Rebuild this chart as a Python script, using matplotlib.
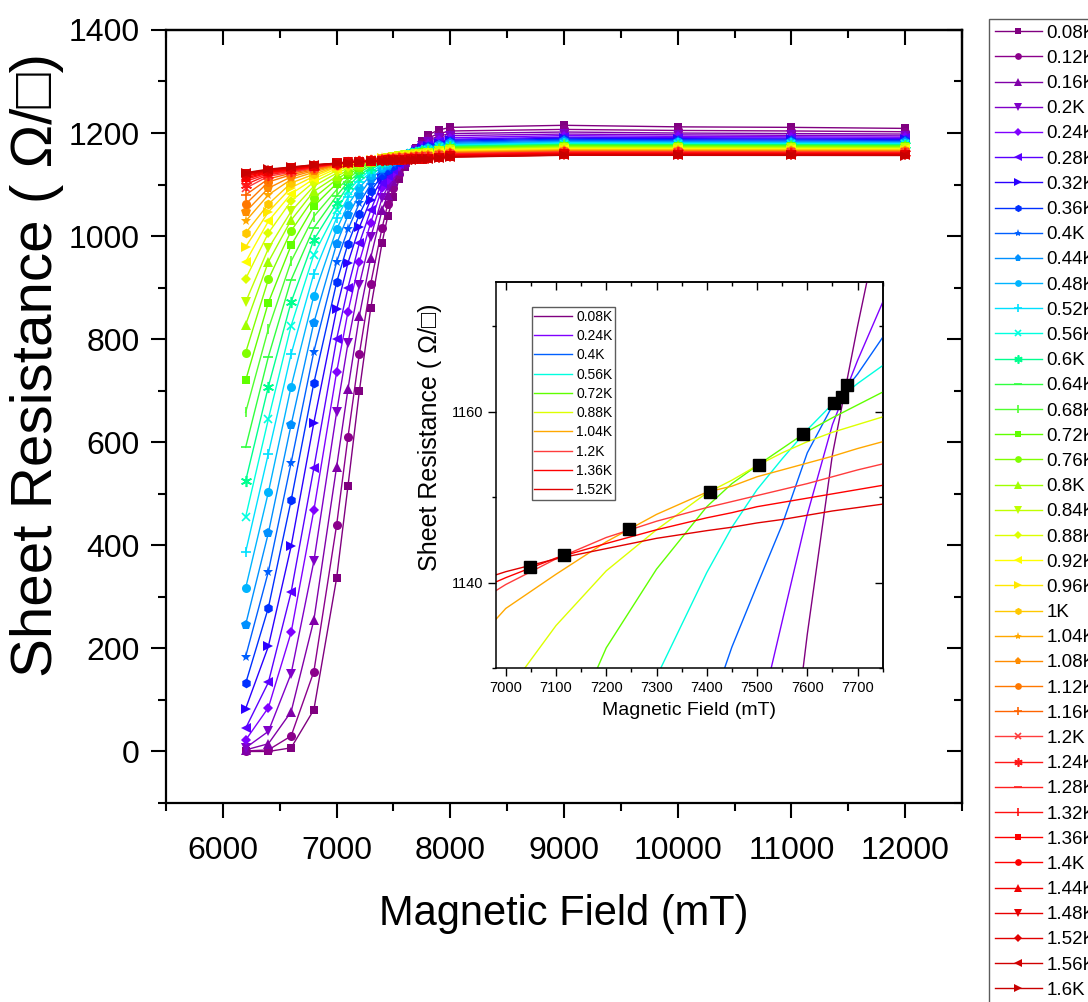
import numpy as np
import matplotlib
matplotlib.use("Agg")
import matplotlib.pyplot as plt
from matplotlib.ticker import MultipleLocator, AutoMinorLocator

plt.rcParams['font.family'] = ['Liberation Sans', 'DejaVu Sans']

# ---------------- data ----------------
temperature_labels = ["0.08K", "0.12K", "0.16K", "0.2K", "0.24K", "0.28K", "0.32K", "0.36K",
                      "0.4K", "0.44K", "0.48K", "0.52K", "0.56K", "0.6K", "0.64K", "0.68K",
                      "0.72K", "0.76K", "0.8K", "0.84K", "0.88K", "0.92K", "0.96K", "1K",
                      "1.04K", "1.08K", "1.12K", "1.16K", "1.2K", "1.24K", "1.28K", "1.32K",
                      "1.36K", "1.4K", "1.44K", "1.48K", "1.52K", "1.56K", "1.6K"]

field_mT = [6200, 6400, 6600, 6800, 7000, 7100, 7200, 7300, 7400, 7450, 7500, 7550,
            7600, 7650, 7700, 7750, 7800, 7900, 8000, 9000, 10000, 11000, 12000]

# sheet resistance (ohm/sq) of every temperature at each field value
R_6200 = [0, 1, 3, 7, 22, 45, 83, 132, 184, 246, 317, 387, 455, 525, 590, 658, 720, 774, 828, 872,
          917, 950, 979, 1006, 1029, 1047, 1062, 1080, 1093, 1100, 1106, 1110, 1113, 1116, 1118,
          1120, 1121, 1122, 1123]
R_6400 = [0, 3, 15, 39, 85, 134, 204, 279, 349, 424, 503, 578, 645, 708, 766, 820, 871, 916, 950,
          976, 1006, 1029, 1047, 1062, 1080, 1093, 1105, 1111, 1116, 1119, 1121, 1123, 1124, 1125,
          1126, 1127, 1128, 1129, 1130]
R_6600 = [7, 30, 77, 151, 231, 309, 398, 487, 560, 634, 708, 771, 826, 872, 915, 951, 982, 1010,
          1031, 1048, 1068, 1082, 1094, 1103, 1110, 1115, 1119, 1122, 1124, 1126, 1127, 1128, 1129,
          1130, 1131, 1132, 1133, 1133.5, 1134]
R_6800 = [81, 155, 255, 369, 468, 550, 638, 715, 776, 832, 884, 927, 964, 993, 1016, 1038, 1058,
          1074, 1087, 1097, 1105, 1111, 1116, 1120, 1124, 1127, 1129, 1131, 1132.5, 1133.5, 1134.5,
          1135, 1135.5, 1136, 1136.5, 1137, 1137.5, 1138, 1138.5]
R_7000 = [336, 439, 552, 658, 736, 800, 858, 910, 950, 985, 1013, 1035, 1050, 1064, 1078, 1090,
          1102, 1110, 1116, 1122, 1127, 1131, 1134, 1135.5, 1137, 1138, 1138.8, 1139.3, 1139.8,
          1140, 1140.2, 1140.4, 1140.6, 1140.8, 1141, 1141.2, 1141.3, 1141.4, 1141.5]
R_7100 = [515, 610, 703, 792, 853, 900, 948, 985, 1013, 1040, 1060, 1075, 1087, 1097, 1105, 1112,
          1119, 1124, 1128, 1132, 1135, 1137.5, 1139.5, 1140.5, 1141, 1141.5, 1142, 1142.4, 1142.8,
          1142.9, 1142.9, 1142.9, 1142.9, 1142.9, 1142.9, 1142.9, 1142.8, 1142.8, 1142.8]
R_7200 = [699, 771, 845, 906, 950, 986, 1017, 1042, 1064, 1080, 1094, 1105, 1111, 1118, 1123, 1128,
          1132.4, 1135, 1137.5, 1139.5, 1141.4, 1142.7, 1143.7, 1144.3, 1144.8, 1145.0, 1145.2,
          1145.3, 1145.3, 1145.2, 1145.1, 1144.9, 1144.6, 1144.5, 1144.3, 1144.2, 1144.0, 1143.9,
          1143.8]
R_7300 = [860, 908, 958, 998, 1026, 1050, 1071, 1087, 1100, 1110, 1118, 1124, 1129, 1133, 1136.5,
          1139.2, 1141.6, 1143.2, 1144.5, 1145.4, 1146.2, 1146.8, 1147.3, 1147.7, 1148.0, 1147.9,
          1147.8, 1147.6, 1147.2, 1147.0, 1146.8, 1146.5, 1146.2, 1146.0, 1145.8, 1145.5, 1145.2,
          1145.1, 1145.0]
R_7400 = [987, 1016, 1051, 1074, 1093, 1104, 1112, 1118, 1124, 1130, 1134, 1138, 1141.2, 1143.5,
          1145.3, 1147.2, 1148.9, 1149.6, 1150.1, 1150.3, 1150.5, 1150.6, 1150.6, 1150.6, 1150.6,
          1150.3, 1150.0, 1149.5, 1148.8, 1148.5, 1148.2, 1147.9, 1147.6, 1147.3, 1147.0, 1146.6,
          1146.1, 1146.0, 1145.9]
R_7450 = [1039, 1062, 1080, 1095, 1108, 1116, 1122, 1127.5, 1132.5, 1137, 1140.5, 1143.5, 1146.5,
          1148.3, 1149.5, 1150.6, 1151.6, 1151.9, 1152.0, 1152.0, 1152.0, 1151.9, 1151.8, 1151.7,
          1151.3, 1151.0, 1150.7, 1150.2, 1149.5, 1149.2, 1148.9, 1148.6, 1148.2, 1147.8, 1147.4,
          1147.0, 1146.5, 1146.4, 1146.3]
R_7500 = [1076, 1093, 1106, 1115, 1123, 1128, 1132, 1136, 1139.7, 1143.5, 1146.8, 1149.5, 1150.9,
          1152.2, 1153.0, 1153.5, 1153.7, 1153.8, 1153.8, 1153.8, 1153.7, 1153.5, 1153.2, 1152.8,
          1152.4, 1152.0, 1151.6, 1151.0, 1150.2, 1150.0, 1149.7, 1149.3, 1148.9, 1148.5, 1148.0,
          1147.5, 1147.0, 1146.9, 1146.8]
R_7550 = [1110, 1120, 1127, 1132, 1135.5, 1139, 1142, 1144.5, 1146.8, 1149.5, 1152, 1153.5, 1154.5,
          1155.2, 1155.6, 1155.8, 1155.7, 1155.6, 1155.5, 1155.4, 1155.2, 1154.9, 1154.5, 1153.9,
          1153.2, 1152.7, 1152.3, 1151.7, 1150.9, 1150.6, 1150.3, 1149.9, 1149.4, 1149.0, 1148.5,
          1148.0, 1147.4, 1147.3, 1147.2]
R_7600 = [1134, 1139, 1143, 1146, 1148, 1150.5, 1152.5, 1154, 1155.2, 1156.2, 1157, 1157.5, 1157.9,
          1157.9, 1157.9, 1157.8, 1157.7, 1157.5, 1157.3, 1157.0, 1156.5, 1156.0, 1155.5, 1154.8,
          1154.0, 1153.5, 1153.0, 1152.4, 1151.6, 1151.3, 1151.0, 1150.5, 1149.9, 1149.5, 1149.0,
          1148.5, 1147.9, 1147.8, 1147.7]
R_7650 = [1155, 1157, 1157.8, 1158.2, 1158.5, 1159.5, 1160.2, 1160.5, 1160.7, 1160.8, 1160.9,
          1160.9, 1160.9, 1160.6, 1160.2, 1159.8, 1159.3, 1159.0, 1158.7, 1158.2, 1157.6, 1157.0,
          1156.4, 1155.6, 1154.8, 1154.3, 1153.8, 1153.2, 1152.4, 1152.0, 1151.6, 1151.0, 1150.4,
          1150.0, 1149.5, 1149.0, 1148.4, 1148.3, 1148.2]
R_7700 = [1170, 1169, 1168, 1167, 1166, 1165.5, 1165, 1164.7, 1164.4, 1164.1, 1163.8, 1163.5,
          1163.3, 1162.8, 1162.3, 1161.5, 1160.8, 1160.3, 1159.8, 1159.2, 1158.5, 1157.9, 1157.3,
          1156.5, 1155.7, 1155.2, 1154.6, 1154.0, 1153.2, 1152.7, 1152.2, 1151.6, 1150.9, 1150.5,
          1150.0, 1149.4, 1148.8, 1148.7, 1148.6]
R_7750 = [1184, 1180, 1177, 1175, 1172.8, 1171.5, 1170.5, 1169.5, 1168.7, 1167.8, 1167, 1166.2,
          1165.4, 1164.7, 1164.0, 1163.2, 1162.3, 1161.6, 1160.9, 1160.2, 1159.4, 1158.8, 1158.0,
          1157.3, 1156.5, 1155.9, 1155.3, 1154.6, 1153.9, 1153.4, 1152.8, 1152.1, 1151.4, 1150.9,
          1150.4, 1149.8, 1149.2, 1149.1, 1149.0]
R_7800 = [1196, 1190, 1186, 1183, 1179, 1177, 1175.5, 1174, 1172.5, 1171.3, 1170.2, 1169, 1167.5,
          1166.8, 1166, 1165, 1164, 1163.2, 1162.4, 1161.6, 1160.6, 1160, 1159.2, 1158.3, 1157.3,
          1156.7, 1156.1, 1155.3, 1154.6, 1154.1, 1153.5, 1152.8, 1152.0, 1151.5, 1151.0, 1150.4,
          1149.7, 1149.6, 1149.5]
R_7900 = [1206, 1199, 1194, 1190, 1186, 1183, 1181, 1179, 1177.5, 1176, 1174.7, 1173.4, 1172, 1171,
          1170, 1169, 1168, 1167, 1166, 1165, 1164, 1163, 1162, 1161, 1160, 1159.3, 1158.6, 1157.8,
          1157, 1156.4, 1155.8, 1155, 1154.2, 1153.6, 1153, 1152.4, 1151.7, 1151.5, 1151.3]
R_8000 = [1211, 1204, 1199, 1195, 1191, 1188, 1186, 1184, 1182, 1180, 1178.5, 1177, 1175.5, 1174.5,
          1173.3, 1172.2, 1171, 1170, 1169, 1168, 1167, 1166, 1165, 1164, 1163, 1162.2, 1161.4,
          1160.6, 1159.8, 1159.1, 1158.4, 1157.6, 1156.8, 1156.1, 1155.4, 1154.7, 1154, 1153.6,
          1153.2]
R_9000 = [1215, 1207, 1202, 1198, 1195, 1192, 1190, 1188, 1186, 1184, 1182.5, 1181, 1179.5, 1178,
          1177, 1176, 1175, 1174, 1172.8, 1171.6, 1170.5, 1169.5, 1168.5, 1167.5, 1166.5, 1165.6,
          1164.8, 1164, 1163.2, 1162.5, 1161.8, 1161, 1160.3, 1159.6, 1159, 1158.4, 1157.8, 1157.3,
          1156.8]
R_10000 = [1212, 1205, 1200, 1196.5, 1193.5, 1191, 1189, 1187, 1185, 1183.2, 1181.7, 1180.3, 1179,
           1177.6, 1176.6, 1175.6, 1174.6, 1173.6, 1172.5, 1171.3, 1170.2, 1169.2, 1168.2, 1167.2,
           1166.3, 1165.4, 1164.6, 1163.8, 1163, 1162.3, 1161.6, 1160.9, 1160.2, 1159.5, 1158.9,
           1158.3, 1157.7, 1157.2, 1156.7]
R_11000 = [1211, 1204, 1199, 1195.5, 1192.7, 1190.3, 1188.3, 1186.4, 1184.5, 1182.8, 1181.3,
           1179.9, 1178.6, 1177.3, 1176.3, 1175.3, 1174.3, 1173.3, 1172.2, 1171.1, 1170, 1169,
           1168, 1167, 1166.1, 1165.2, 1164.4, 1163.6, 1162.8, 1162.1, 1161.4, 1160.7, 1160,
           1159.4, 1158.8, 1158.2, 1157.6, 1157.1, 1156.6]
R_12000 = [1209, 1202.5, 1198, 1194.5, 1191.8, 1189.5, 1187.6, 1185.8, 1184, 1182.3, 1180.9,
           1179.5, 1178.2, 1177, 1176, 1175, 1174, 1173, 1172, 1170.9, 1169.8, 1168.8, 1167.8,
           1166.8, 1165.9, 1165, 1164.2, 1163.4, 1162.6, 1161.9, 1161.2, 1160.5, 1159.8, 1159.2,
           1158.6, 1158, 1157.4, 1156.9, 1156.4]

# curves repeated in the close-up and the crossing points of neighbouring curves
inset_labels = ["0.08K", "0.24K", "0.4K", "0.56K", "0.72K", "0.88K", "1.04K", "1.2K", "1.36K", "1.52K"]
crossing_field = [7049, 7115, 7245, 7406, 7503, 7591, 7653, 7669, 7679]
crossing_R = [1141.9, 1143.2, 1146.3, 1150.6, 1153.8, 1157.4, 1161.0, 1161.7, 1163.1]

resistance = np.column_stack([R_6200, R_6400, R_6600, R_6800, R_7000, R_7100, R_7200, R_7300,
                              R_7400, R_7450, R_7500, R_7550, R_7600, R_7650, R_7700, R_7750,
                              R_7800, R_7900, R_8000, R_9000, R_10000, R_11000, R_12000])

# ---------------- styles ----------------
colors = ["#800080", "#8B008B", "#8000A8", "#8000C8", "#8000FF", "#5A00FF", "#2A00FF", "#0030FF",
          "#0060FF", "#0090FF", "#00B4FF", "#00E0FF", "#00FFE0", "#00FF90", "#30FF40", "#50FF30",
          "#60FF00", "#80FF00", "#A0FF00", "#C0FF00", "#DDFF00", "#FFFF00", "#FFE800", "#FFC800",
          "#FFA800", "#FF8C00", "#FF7800", "#FF6400", "#FF3C3C", "#FF1818", "#FF2020", "#FF1010",
          "#FF0000", "#FF0000", "#F00000", "#E80000", "#E00000", "#D00000", "#C80000"]
marker_cycle = ['s', 'o', '^', 'v', 'D', '<', '>', 'h', '*', 'p', 'o', '+', 'x', (6, 2, 0), '_', '|']
marker_size = {'s': 6, 'o': 6.5, '^': 7, 'v': 7, 'D': 5, '<': 7, '>': 7, 'h': 7, '*': 8, 'p': 7,
               '+': 7, 'x': 6, '_': 7, '|': 7}
open_markers = {'+', 'x', '_', '|'}

fig = plt.figure(figsize=(10.88, 10.02), dpi=100)
ax = fig.add_axes([0.1526, 0.1986, 0.7316, 0.7715])


def frame(axis, xmajor, ymajor, major_len, minor_len, width, spine_w, labelsize, xpad, ypad):
    """Ticks out on bottom/left, in on top/right, minor ticks halfway."""
    axis.xaxis.set_major_locator(MultipleLocator(xmajor))
    axis.xaxis.set_minor_locator(AutoMinorLocator(2))
    axis.yaxis.set_major_locator(MultipleLocator(ymajor))
    axis.yaxis.set_minor_locator(AutoMinorLocator(2))
    axis.tick_params(which='both', direction='out', width=width, top=False, right=False,
                     labelsize=labelsize, colors='black')
    axis.tick_params(axis='x', pad=xpad)
    axis.tick_params(axis='y', pad=ypad)
    axis.tick_params(which='major', length=major_len)
    axis.tick_params(which='minor', length=minor_len)
    for s in axis.spines.values():
        s.set_linewidth(spine_w)
    top = axis.secondary_xaxis('top')
    top.xaxis.set_major_locator(MultipleLocator(xmajor))
    top.xaxis.set_minor_locator(AutoMinorLocator(2))
    top.tick_params(which='both', direction='in', width=width, labeltop=False)
    top.tick_params(which='major', length=major_len)
    top.tick_params(which='minor', length=minor_len)
    top.spines['top'].set_linewidth(spine_w)
    right = axis.secondary_yaxis('right')
    right.yaxis.set_major_locator(MultipleLocator(ymajor))
    right.yaxis.set_minor_locator(AutoMinorLocator(2))
    right.tick_params(which='both', direction='in', width=width, labelright=False)
    right.tick_params(which='major', length=major_len)
    right.tick_params(which='minor', length=minor_len)
    right.spines['right'].set_linewidth(spine_w)


for i, label in enumerate(temperature_labels):
    m = marker_cycle[i % len(marker_cycle)]
    key = m if isinstance(m, str) else '*'
    is_open = isinstance(m, tuple) or m in open_markers
    ax.plot(field_mT, resistance[i], color=colors[i], lw=1.0, marker=m,
            ms=marker_size.get(key, 6.5), mew=1.2 if is_open else 0.0,
            mfc=colors[i], mec=colors[i], label=label, zorder=2 + i * 0.01)

ax.set_xlim(5500, 12500)
ax.set_ylim(-100, 1400)
frame(ax, 1000, 200, 11, 5.5, 1.5, 1.6, 23, 13, 8)
ax.set_xlabel("Magnetic Field (mT)", fontsize=30, labelpad=20)
ax.set_ylabel("Sheet Resistance ( \u03a9/\u25a1)", fontsize=42)
ax.yaxis.set_label_coords(-0.128, 0.567)

leg = fig.legend(loc='upper left', bbox_to_anchor=(989 / 1088, 1 - 19 / 1002),
                 fontsize=13.5, handlelength=2.5, handletextpad=0.25, labelspacing=0.43,
                 borderpad=0.3, borderaxespad=0, markerscale=0.75, frameon=True,
                 fancybox=False, edgecolor='#333333')
leg.get_frame().set_linewidth(1.0)

# ---------------- close-up ----------------
ins = fig.add_axes([0.4556, 0.333, 0.3557, 0.3858])
for label in inset_labels:
    i = temperature_labels.index(label)
    ins.plot(field_mT, resistance[i], color=colors[i], lw=1.0, label=label)
ins.plot(crossing_field, crossing_R, ls='none', marker='s', ms=8.5, color='black', zorder=5)
ins.set_xlim(6980, 7750)
ins.set_ylim(1130, 1175.2)
frame(ins, 100, 20, 6, 3, 1.0, 1.1, 10.5, 3, 3)
ins.set_xlabel("Magnetic Field (mT)", fontsize=14, labelpad=5)
ins.set_ylabel("Sheet Resistance ( \u03a9/\u25a1)", fontsize=18)
ins.yaxis.set_label_coords(-0.138, 0.598)
ileg = ins.legend(loc='upper left', bbox_to_anchor=(0.093, 0.935), fontsize=10,
                  handlelength=2.7, handletextpad=0.3, labelspacing=0.38, borderpad=0.2,
                  borderaxespad=0, frameon=True, fancybox=False, edgecolor='#333333')
ileg.get_frame().set_linewidth(1.0)

fig.savefig("out.png", dpi=100)
